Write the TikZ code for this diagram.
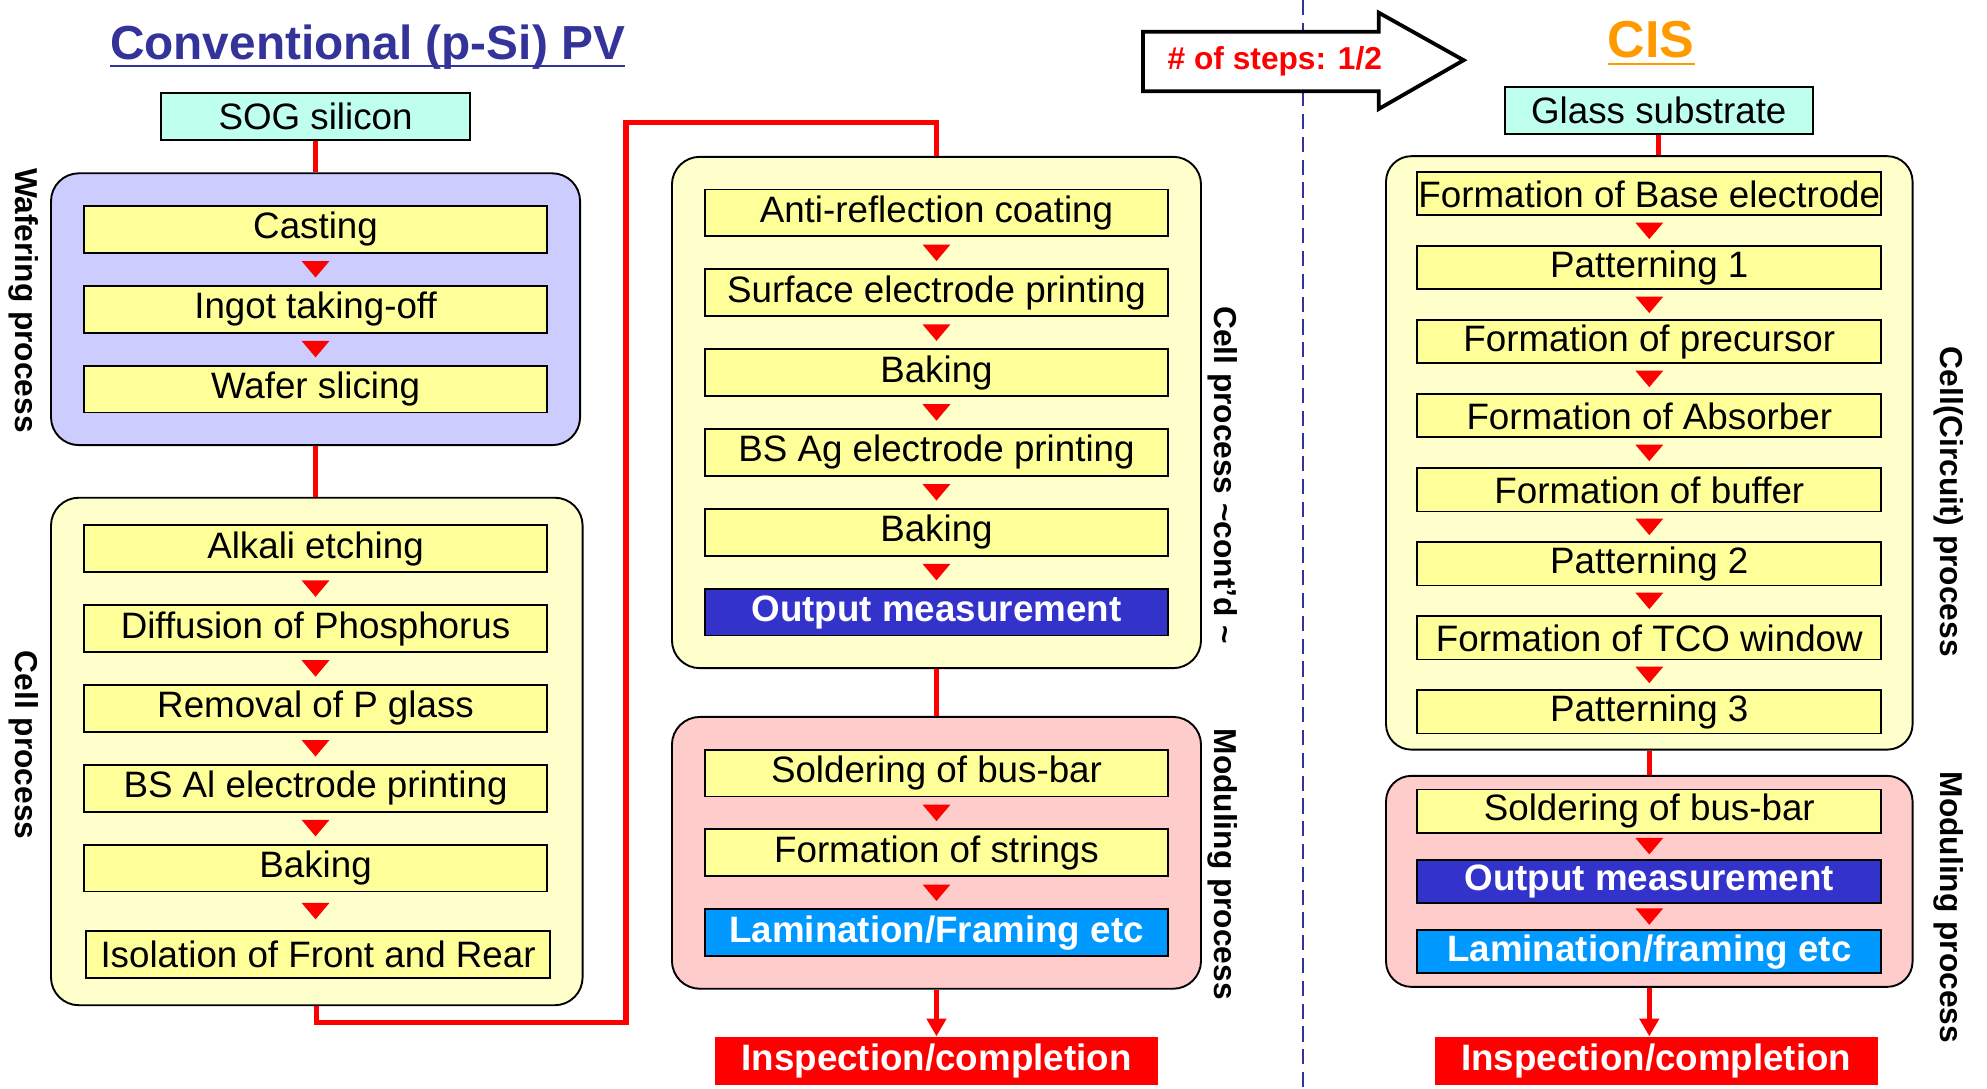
\documentclass[tikz,border=0pt]{standalone}
\usepackage{fontspec}
\setmainfont{Liberation Sans}
\usetikzlibrary{positioning,fit,backgrounds,calc,arrows.meta}

\definecolor{stepyellow}{HTML}{FFFF99}
\definecolor{cellyellow}{HTML}{FFFFCC}
\definecolor{waferblue}{HTML}{CCCCFF}
\definecolor{modpink}{HTML}{FFCCCC}
\definecolor{startmint}{HTML}{BFFFEE}
\definecolor{measblue}{HTML}{3333CC}
\definecolor{lamblue}{HTML}{0099FF}
\definecolor{titleblue}{HTML}{333399}
\definecolor{cisorange}{HTML}{FF9900}
\definecolor{flowred}{HTML}{FF0000}

\tikzset{
	proc node/.style = {
		rectangle,
		draw = black,
		line width = 1.5pt,
		fill = stepyellow,
		minimum width = 366pt,
		minimum height = 37pt,
		inner xsep = 0pt,
		font = \fontsize{29}{30}\selectfont
	},
	cis node/.style = {
		proc node,
		minimum height = 34pt
	},
	meas node/.style = {
		fill = measblue,
		text = white,
		font = \fontsize{29}{30}\selectfont\bfseries
	},
	lam node/.style = {
		fill = lamblue,
		text = white,
		font = \fontsize{29}{30}\selectfont\bfseries
	},
	start node/.style = {
		proc node,
		fill = startmint,
		minimum width = 244pt
	},
	end node/.style = {
		rectangle,
		fill = flowred,
		text = white,
		minimum width = 350pt,
		minimum height = 38pt,
		font = \fontsize{29}{30}\selectfont\bfseries
	},
	head node/.style = {
		anchor = base,
		inner sep = 0pt
	},
	group box/.style = {
		draw = black,
		line width = 1.5pt,
		rounded corners = 22pt
	},
	side label/.style = {
		rotate = -90,
		font = \fontsize{25}{26}\selectfont\bfseries
	},
	flow line/.style = {
		draw = flowred,
		line width = 4pt
	},
	pics/drop/.style = {
		code = {\fill[flowred] (-11,-6.5) -- (11,-6.5) -- (0,6.5) -- cycle;}
	}
}

\begin{document}
\begin{tikzpicture}[x=1pt, y=-1pt]
	\useasboundingbox (0,0) rectangle (1568,859);

	\draw[titleblue, line width=1.3pt, dash pattern=on 12pt off 6pt] (1028,0) -- (1028,859);

	\node at (290,47) [head node, text=titleblue, font=\fontsize{37.7}{40}\selectfont\bfseries] (pvtitle) {Conventional (p-Si) PV};
	\draw[titleblue, line width=1.8pt] ($(pvtitle.base west)+(0,5)$) -- ($(pvtitle.base east)+(0,5)$);

	\node at (249,92) [start node] (sog) {SOG silicon};

	\node at (249,181) [proc node] (cast) {Casting};
	\node [proc node, below=24.5pt of cast] (ingot) {Ingot taking-off};
	\node [proc node, below=24.5pt of ingot] (slice) {Wafer slicing};

	\node at (249,433) [proc node] (alkali) {Alkali etching};
	\node [proc node, below=24.5pt of alkali] (diff) {Diffusion of Phosphorus};
	\node [proc node, below=24.5pt of diff] (pglass) {Removal of P glass};
	\node [proc node, below=24.5pt of pglass] (alprint) {BS Al electrode printing};
	\node [proc node, below=24.5pt of alprint] (bakea) {Baking};
	\node [proc node, below=29.5pt of bakea, xshift=2pt] (isol) {Isolation of Front and Rear};

	\node at (739,168) [proc node] (arc) {Anti-reflection coating};
	\node [proc node, below=24.5pt of arc] (surf) {Surface electrode printing};
	\node [proc node, below=24.5pt of surf] (bakeb) {Baking};
	\node [proc node, below=24.5pt of bakeb] (agprint) {BS Ag electrode printing};
	\node [proc node, below=24.5pt of agprint] (bakec) {Baking};
	\node [proc node, meas node, below=24.5pt of bakec] (measb) {Output measurement};

	\node at (739,610) [proc node] (solb) {Soldering of bus-bar};
	\node [proc node, below=24.5pt of solb] (string) {Formation of strings};
	\node [proc node, lam node, below=24.5pt of string] (lamb) {Lamination/Framing etc};

	\node at (739,837) [end node] (inspb) {Inspection/completion};

	\draw[line width=3pt, fill=white] (902,25) -- (1088,25) -- (1088,10) -- (1155,47.5) -- (1088,86) -- (1088,72) -- (902,72) -- cycle;
	\node at (1006,48) [text=flowred, font=\fontsize{25}{26}\selectfont\bfseries] (steps) {\# of steps: 1/2};

	\node at (1303,45) [head node, text=cisorange, font=\fontsize{41}{44}\selectfont\bfseries] (cistitle) {CIS};
	\draw[cisorange, line width=1.8pt] ($(cistitle.base west)+(0,5.5)$) -- ($(cistitle.base east)+(0,5.5)$);

	\node at (1309,87) [start node, minimum width=243pt] (glass) {Glass substrate};

	\node at (1301.5,153) [cis node] (base) {Formation of Base electrode};
	\node [cis node, below=22.9pt of base] (pat1) {Patterning 1};
	\node [cis node, below=22.9pt of pat1] (prec) {Formation of precursor};
	\node [cis node, below=22.9pt of prec] (absorb) {Formation of Absorber};
	\node [cis node, below=22.9pt of absorb] (buffer) {Formation of buffer};
	\node [cis node, below=22.9pt of buffer] (pat2) {Patterning 2};
	\node [cis node, below=22.9pt of pat2] (tco) {Formation of TCO window};
	\node [cis node, below=22.9pt of tco] (pat3) {Patterning 3};

	\node at (1301.5,640) [cis node] (solc) {Soldering of bus-bar};
	\node [cis node, meas node, below=20pt of solc] (measc) {Output measurement};
	\node [cis node, lam node, below=20pt of measc] (lamc) {Lamination/framing etc};

	\node at (1307,837) [end node] (inspc) {Inspection/completion};

	\begin{scope}[on background layer]
		\node [group box, fill=waferblue, fit=(cast)(slice), inner xsep=25pt, inner ysep=25pt] (wafer) {};
		\node [group box, fill=cellyellow, fit=(alkali)(isol), inner xsep=25pt, inner ysep=21pt] (cella) {};
		\node [group box, fill=cellyellow, fit=(arc)(measb), inner xsep=25pt, inner ysep=25pt] (cellb) {};
		\node [group box, fill=modpink, fit=(solb)(lamb), inner xsep=25pt, inner ysep=25pt] (modb) {};
		\node [group box, fill=cellyellow, fit=(base)(pat3), inner xsep=24pt, inner ysep=12pt, rounded corners=20pt] (cellc) {};
		\node [group box, fill=modpink, fit=(solc)(lamc), inner xsep=24pt, inner ysep=10pt, rounded corners=20pt] (modc) {};
	\end{scope}

	\node at (19,237) [side label] (lblwafer) {Wafering process};
	\node at (19,588) [side label] (lblcella) {Cell process};
	\node at (965,375) [side label] (lblcellb) {Cell process \textasciitilde cont'd \textasciitilde};
	\node at (965,682) [side label] (lblmodb) {Moduling process};
	\node at (1538,396) [side label] (lblcellc) {Cell(Circuit) process};
	\node at (1538,716) [side label] (lblmodc) {Moduling process};

	\foreach \a/\b in {cast/ingot, ingot/slice, alkali/diff, diff/pglass, pglass/alprint, alprint/bakea, bakea/isol,
		arc/surf, surf/bakeb, bakeb/agprint, agprint/bakec, bakec/measb, solb/string, string/lamb,
		base/pat1, pat1/prec, prec/absorb, absorb/buffer, buffer/pat2, pat2/tco, tco/pat3, solc/measc, measc/lamc}
		\path (\a.south) -- pic{drop} (\a.south |- \b.north);

	\coordinate (jogA) at (494,807);
	\coordinate (jogB) at ($(cellb.north)+(0,-26)$);

	\draw[flow line] (sog.south) -- (sog.south |- wafer.north);
	\draw[flow line] (wafer.south) -- (wafer.south |- cella.north);
	\draw[flow line] (cella.south) |- (jogA) |- (jogB) -- (cellb.north);
	\draw[flow line] (cellb.south) -- (modb.north);
	\draw[flow line, -{Triangle[width=15pt,length=14pt]}] (modb.south) -- (inspb.north);
	\draw[flow line] (glass.south) -- (glass.south |- cellc.north);
	\draw[flow line] (cellc.south) -- (modc.north);
	\draw[flow line, -{Triangle[width=15pt,length=14pt]}] (modc.south) -- (modc.south |- inspc.north);
\end{tikzpicture}
\end{document}
